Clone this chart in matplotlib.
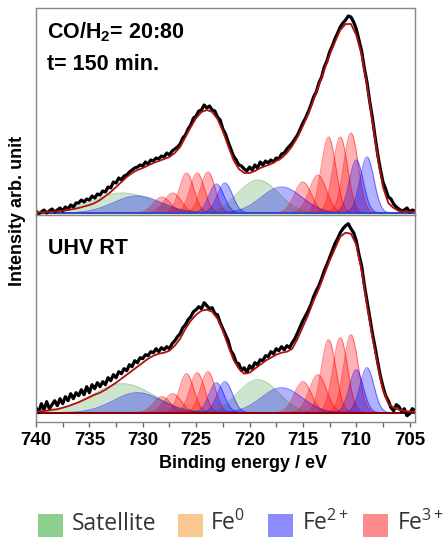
import numpy as np
import matplotlib.pyplot as plt
from matplotlib.patches import Rectangle
from matplotlib.ticker import MultipleLocator

plt.rcParams['font.family'] = ['Liberation Sans', 'DejaVu Sans']
plt.rcParams['font.weight'] = 'bold'
plt.rcParams['mathtext.fontset'] = 'custom'
plt.rcParams['mathtext.rm'] = 'Liberation Sans:bold'
plt.rcParams['mathtext.bf'] = 'Liberation Sans:bold'
plt.rcParams['mathtext.it'] = 'Liberation Sans:bold'

# binding energy grids (eV), 740 -> 704.5
energy = np.arange(740, 704.4, -0.25)      # measured points
energy_fit = np.arange(740, 704.4, -0.5)   # fit envelope

# CO/H2 = 20:80, t = 150 min (top panel)
top_data = [2, -1, 1, 3, 0, 2, 4, 1,
            3, 5, 2, 6, 4, 8, 6, 10,
            10, 13, 11, 14, 13, 17, 15, 19,
            18, 22, 21, 26, 25, 31, 30, 35,
            33, 37, 38, 41, 43, 45, 46, 48,
            47, 51, 49, 53, 52, 55, 54, 57,
            56, 60, 58, 62, 64, 66, 69, 75,
            78, 84, 88, 95, 97, 102, 103, 108,
            105, 107, 103, 102, 96, 93, 84, 79,
            71, 64, 57, 53, 48, 47, 44, 42,
            46, 43, 48, 45, 51, 48, 52, 50,
            53, 51, 55, 54, 59, 60, 64, 67,
            70, 74, 78, 84, 90, 95, 101, 108,
            116, 121, 130, 136, 146, 152, 161, 167,
            174, 180, 186, 190, 193, 197, 196, 191,
            184, 173, 162, 145, 131, 112, 96, 77,
            59, 44, 31, 24, 16, 14, 9, 6,
            4, 2, 3, 5, 1, 3, 2]
top_fit = [0.5, 0.8, 1, 1.3, 1.6, 2.2, 3, 4, 5, 6.5, 8, 10, 13, 17, 21, 26, 31, 36, 40, 43,
           45, 47.5, 50, 52, 54, 56, 60, 66, 76, 86, 95, 101, 103, 101, 94, 82, 67, 53, 44, 40,
           40, 42, 45, 47, 49, 52, 55, 60, 67, 76, 87, 99, 113, 128, 143, 158, 171, 183, 189, 189,
           178, 158, 128, 93, 56, 26, 10, 5, 2, 1.5, 1, 1]

# UHV RT (bottom panel)
bot_data = [5, 0, 9, 3, 11, 4, 8, 12,
            7, 14, 9, 16, 12, 19, 14, 20,
            17, 23, 18, 26, 20, 28, 24, 30,
            26, 31, 28, 35, 32, 38, 35, 41,
            39, 44, 42, 48, 46, 52, 50, 55,
            54, 58, 57, 61, 60, 64, 61, 65,
            63, 66, 64, 69, 72, 76, 79, 85,
            88, 93, 96, 101, 103, 106, 104, 110,
            107, 104, 105, 99, 98, 90, 84, 78,
            72, 62, 58, 50, 49, 42, 45, 40,
            47, 44, 50, 48, 53, 52, 57, 56,
            61, 59, 64, 62, 66, 63, 67, 65,
            70, 74, 80, 86, 92, 97, 102, 108,
            116, 122, 127, 134, 142, 148, 155, 162,
            169, 174, 180, 184, 187, 189, 184, 180,
            172, 158, 147, 128, 112, 96, 80, 66,
            51, 37, 26, 17, 12, 5, 2, 8,
            6, 1, 4, -3, -1, 4, 2]
bot_fit = [1, 1.5, 2, 3, 3.5, 5, 6.5, 8.5, 10.5, 13, 15.5, 18, 20, 23, 26.5, 30, 34, 38, 42, 46,
           50, 54, 57, 59, 60, 62, 67, 74, 84, 92, 98, 102, 103, 101, 94, 82, 67, 53, 44, 39,
           40, 44, 48, 52, 55, 58, 60, 61, 64, 74, 86, 98, 112, 124, 138, 152, 164, 176, 180, 179,
           168, 142, 108, 76, 48, 23, 9, 5, 3, 2, 1, 1]

# fitted components: centre (eV), width (eV), height per panel
sat_centers = [731.9, 719.2]
sat_widths = [2.9, 1.9]
top_sat_heights = [20, 33]
bot_sat_heights = [29, 33]

fe2_centers = [730.5, 723.1, 722.3, 717.0, 710.0, 709.0]
fe2_widths = [2.25, 0.7, 0.7, 1.9, 0.65, 0.65]
top_fe2_heights = [17, 29, 30, 26, 53, 56]
bot_fe2_heights = [20, 30, 31, 25, 43, 45]

fe3_centers = [728.2, 727.2, 725.9, 724.9, 723.9, 715.0, 713.6, 712.6, 711.5, 710.5]
fe3_widths = [0.8, 0.8, 0.68, 0.68, 0.68, 0.8, 0.8, 0.68, 0.68, 0.68]
top_fe3_heights = [16, 20, 40, 40, 41, 31, 38, 76, 76, 80]
bot_fe3_heights = [16, 19, 39, 40, 41, 31, 38, 73, 75, 78]

legend_labels = ['Satellite', r'Fe$^{\mathregular{0}}$', r'Fe$^{\mathregular{2+}}$',
                 r'Fe$^{\mathregular{3+}}$']
legend_colors = ['#8ccf8c', '#f9c890', '#8c8cff', '#ff8c8c']

fine = np.linspace(740, 704.5, 600)


def peaks(ax, centers, widths, heights, color, alpha):
    for c, s, h in zip(centers, widths, heights):
        y = h * np.exp(-0.5 * ((fine - c) / s) ** 2)
        ax.fill_between(fine, 0, y, color=color, alpha=alpha, lw=0)
        ax.plot(fine, y, color=color, alpha=alpha + 0.15, lw=0.8)


def panel(ax, data, fit, sat_h, fe2_h, fe3_h, base_color):
    peaks(ax, sat_centers, sat_widths, sat_h, '#3a9a3a', 0.25)
    peaks(ax, fe3_centers, fe3_widths, fe3_h, '#ff0000', 0.3)
    peaks(ax, fe2_centers, fe2_widths, fe2_h, '#0000ff', 0.3)
    ax.axhline(0, color=base_color, lw=1.4)
    ax.plot(energy, data, color='black', lw=2.3)
    ax.plot(energy_fit, fit, color='#b01010', lw=1.3)
    ax.set_xlim(740, 704.5)
    for sp in ax.spines.values():
        sp.set_color('#888888')
        sp.set_linewidth(1.0)
    ax.tick_params(left=False, labelleft=False)


fig = plt.figure(figsize=(4.44, 5.37), dpi=100)
ax1 = fig.add_axes([36 / 444, 1 - 215 / 537, 379 / 444, 207 / 537])
ax2 = fig.add_axes([36 / 444, 1 - 422 / 537, 379 / 444, 207 / 537])

panel(ax1, top_data, top_fit, top_sat_heights, top_fe2_heights, top_fe3_heights, '#3050c0')
ax1.set_ylim(-2, 205)
ax1.tick_params(bottom=False, labelbottom=False)
ax1.text(0.029, 0.855, r'CO/H$_2$= 20:80', transform=ax1.transAxes, fontsize=15.5,
         fontweight='bold', va='baseline')
ax1.text(0.029, 0.70, 't= 150 min.', transform=ax1.transAxes, fontsize=15.5,
         fontweight='bold', va='baseline')

panel(ax2, bot_data, bot_fit, bot_sat_heights, bot_fe2_heights, bot_fe3_heights, '#8b0000')
ax2.set_ylim(-9.3, 197.7)
ax2.text(0.032, 0.81, 'UHV RT', transform=ax2.transAxes, fontsize=15.5,
         fontweight='bold', va='baseline')
ax2.set_xticks([740, 735, 730, 725, 720, 715, 710, 705])
ax2.xaxis.set_minor_locator(MultipleLocator(2.5))
ax2.tick_params(axis='x', which='both', direction='out', color='#666666', length=3.5,
                width=1, pad=4, labelsize=13.5)

fig.text(0.548, 1 - 468 / 537, 'Binding energy / eV', ha='center', va='baseline',
         fontsize=13, fontweight='bold')
fig.text(0.04, 0.607, 'Intensity arb. unit', ha='center', va='center', rotation=90,
         fontsize=13, fontweight='bold')

# legend row along the bottom edge
sw_left = [38, 178, 268, 363]
txt_left = [72, 210, 302, 397]
for x0, tx, lab, col in zip(sw_left, txt_left, legend_labels, legend_colors):
    fig.add_artist(Rectangle((x0 / 444, 0), 25 / 444, 23 / 537, transform=fig.transFigure,
                             color=col, lw=0))
    fig.text(tx / 444, 1 - 530 / 537, lab, ha='left', va='baseline', fontsize=16.5,
             fontweight='normal', family=['Open Sans', 'DejaVu Sans'], color='#333333')

fig.savefig('out.png', dpi=100)
